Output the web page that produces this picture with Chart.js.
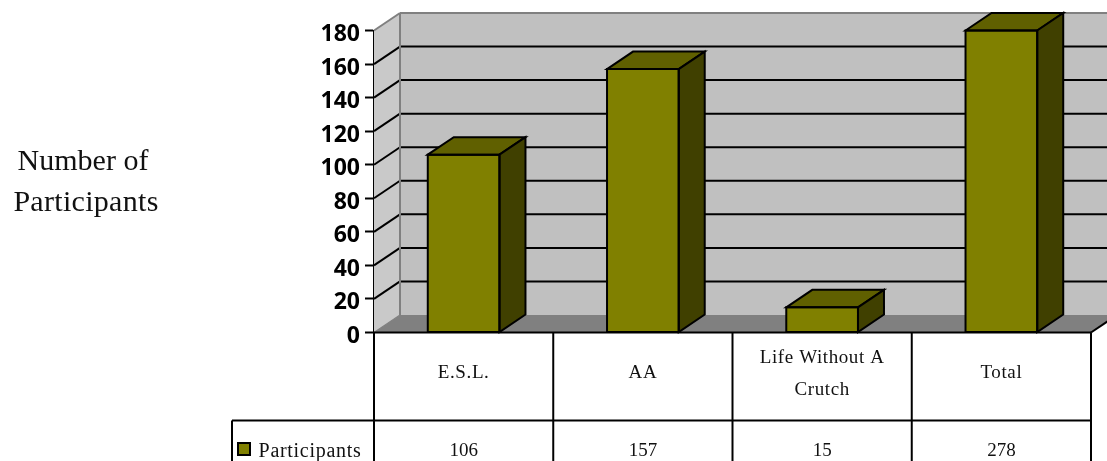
<!DOCTYPE html>
<html>
<head>
<meta charset="utf-8">
<title>Number of Participants</title>
<script src="https://cdn.jsdelivr.net/npm/chart.js@4/dist/chart.umd.min.js"></script>
<style>
  html, body { margin: 0; padding: 0; background: #fff; overflow: hidden; }
  canvas { display: block; }
</style>
</head>
<body>
<canvas id="chart" width="1107" height="461"></canvas>
<script>
const categories = ['E.S.L.', 'AA', ['Life Without A', 'Crutch'], 'Total'];
const participants = [106, 157, 15, 278];
const yTicks = [0, 20, 40, 60, 80, 100, 120, 140, 160, 180];
const seriesName = 'Participants';
const yTitle = ['Number of', 'Participants'];

// 3D offset of the back wall, and where the table sits
const DX = 26, DY = -17.5;
const TABLE_MID = 420.5, TABLE_LEFT = 232;
const SERIF = '"Liberation Serif", serif';

function poly(ctx, pts, fill, stroke, lw) {
  ctx.beginPath();
  pts.forEach((p, i) => i ? ctx.lineTo(p[0], p[1]) : ctx.moveTo(p[0], p[1]));
  ctx.closePath();
  if (fill) { ctx.fillStyle = fill; ctx.fill(); }
  if (stroke) { ctx.strokeStyle = stroke; ctx.lineWidth = lw; ctx.lineJoin = 'miter'; ctx.stroke(); }
}

function line(ctx, x1, y1, x2, y2, color, lw) {
  ctx.beginPath();
  ctx.moveTo(x1, y1);
  ctx.lineTo(x2, y2);
  ctx.strokeStyle = color;
  ctx.lineWidth = lw;
  ctx.stroke();
}

function text(ctx, str, x, y, font, spacing) {
  ctx.font = font;
  ctx.letterSpacing = (spacing || 0) + 'px';
  ctx.fillStyle = '#111';
  ctx.textAlign = 'center';
  ctx.textBaseline = 'middle';
  ctx.fillText(str, x, y);
  ctx.letterSpacing = '0px';
}

/* Walls, floor and gridlines go behind the bars */
const walls = {
  id: 'walls',
  beforeDatasetsDraw(chart) {
    const { ctx, chartArea: a, scales: { y } } = chart;
    const y0 = y.getPixelForValue(0), yTop = y.getPixelForValue(180);
    const far = a.right + DX;
    ctx.save();
    poly(ctx, [[a.left, y0], [a.left + DX, y0 + DY], [a.left + DX, yTop + DY], [a.left, yTop]], '#c9c9c9');
    poly(ctx, [[a.left + DX, y0 + DY], [far, y0 + DY], [far, yTop + DY], [a.left + DX, yTop + DY]], '#c0c0c0');
    poly(ctx, [[a.left, y0], [a.left + DX, y0 + DY], [far, y0 + DY], [a.right, y0]], '#808080');
    yTicks.forEach(v => {
      if (v === 0 || v === 180) return;
      const py = y.getPixelForValue(v);
      line(ctx, a.left, py, a.left + DX, py + DY, '#000', 2);
      line(ctx, a.left + DX, py + DY, far, py + DY, '#000', 2);
    });
    line(ctx, a.left + DX, y0 + DY, a.left + DX, yTop + DY, '#808080', 2);
    line(ctx, a.left, y0, a.left + DX, y0 + DY, '#808080', 1.2);
    line(ctx, a.left, yTop, a.left + DX, yTop + DY, '#808080', 2);
    line(ctx, a.left + DX, yTop + DY, far, yTop + DY, '#808080', 2);
    ctx.restore();
  }
};

/* Top and side faces of each bar, outlines on top of the native front face */
const bars3d = {
  id: 'bars3d',
  afterDatasetsDraw(chart) {
    const { ctx, chartArea: a } = chart;
    ctx.save();
    chart.getDatasetMeta(0).data.forEach(el => {
      const l = el.x - el.width / 2, r = el.x + el.width / 2;
      const t = Math.max(el.y, a.top), b = el.base;
      poly(ctx, [[l, t], [l + DX, t + DY], [r + DX, t + DY], [r, t]], '#606000', '#000', 2);
      poly(ctx, [[r, t], [r + DX, t + DY], [r + DX, b + DY], [r, b]], '#404000', '#000', 2);
      poly(ctx, [[l, t], [r, t], [r, b], [l, b]], null, '#000', 2);
    });
    ctx.restore();
  }
};

/* Data table under the plot, the legend key in it, and the side title */
const table = {
  id: 'table',
  afterDraw(chart) {
    const { ctx, chartArea: a, scales: { x, y } } = chart;
    const H = chart.height, y0 = y.getPixelForValue(0);
    ctx.save();
    line(ctx, a.right, y0, a.right + 20, y0 + DY * 20 / DX, '#000', 2);
    line(ctx, a.left, y0, a.right, y0, '#000', 2);
    line(ctx, TABLE_LEFT, TABLE_MID, a.right, TABLE_MID, '#000', 2);
    line(ctx, TABLE_LEFT, TABLE_MID, TABLE_LEFT, H, '#000', 2);
    line(ctx, a.left, y0, a.left, H, '#000', 2);
    const band = (a.right - a.left) / categories.length;
    categories.forEach((c, i) => {
      const cx = x.getPixelForValue(i);
      line(ctx, cx + band / 2, y0, cx + band / 2, H, '#000', 2);
      const font = '19px ' + SERIF;
      if (Array.isArray(c)) {
        text(ctx, c[0], cx, 358, font, 0.6);
        text(ctx, c[1], cx, 390, font, 0.6);
      } else {
        text(ctx, c, cx, 373, font, 0.6);
      }
      text(ctx, String(participants[i]), cx, 451, font, 0);
    });
    ctx.beginPath();
    ctx.rect(238, 443, 12, 12);
    ctx.fillStyle = '#808000';
    ctx.fill();
    ctx.strokeStyle = '#000';
    ctx.lineWidth = 2;
    ctx.stroke();
    text(ctx, chart.data.datasets[0].label, 310, 452, '20px ' + SERIF, 0.7);
    text(ctx, yTitle[0], 83, 162, '30px ' + SERIF, 0);
    text(ctx, yTitle[1], 86, 203, '30px ' + SERIF, 0.3);
    // tick labels sit a little below their tick marks in the original
    ctx.font = 'bold 23px "Open Sans", sans-serif';
    ctx.fillStyle = '#000';
    ctx.textAlign = 'right';
    ctx.textBaseline = 'middle';
    yTicks.forEach(v => ctx.fillText(String(v), 360, y.getPixelForValue(v) + 4));
    ctx.restore();
  }
};

new Chart(document.getElementById('chart'), {
  type: 'bar',
  data: {
    labels: categories,
    datasets: [{
      label: seriesName,
      data: participants,
      backgroundColor: '#808000',
      borderWidth: 0,
      barPercentage: 0.4,
      categoryPercentage: 1
    }]
  },
  options: {
    responsive: false,
    animation: false,
    layout: { padding: { top: 30.5, right: 16, left: 0, bottom: 0 } },
    plugins: { legend: { display: false }, tooltip: { enabled: false } },
    scales: {
      x: {
        grid: { display: false },
        border: { display: false },
        ticks: { display: false },
        afterFit(s) { s.height = 128.5; }
      },
      y: {
        min: 0,
        max: 180,
        afterFit(s) { s.width = 374; },
        afterBuildTicks(s) { s.ticks = yTicks.map(v => ({ value: v })); },
        grid: { drawOnChartArea: false, drawTicks: true, tickLength: 9, tickColor: '#000', tickWidth: 2 },
        border: { display: true, color: '#000', width: 2 },
        ticks: { display: false }
      }
    }
  },
  plugins: [walls, bars3d, table]
});
</script>
</body>
</html>
